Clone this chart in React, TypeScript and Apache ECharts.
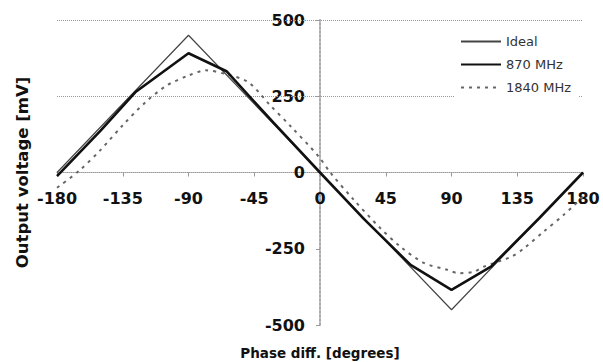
import React, { useEffect, useRef } from "react";
import * as echarts from "echarts";

const xTicks = [-180, -135, -90, -45, 0, 45, 90, 135, 180];
const yTicks = [-500, -250, 0, 250, 500];

const idealX = [-180, -90, 90, 180];
const idealY = [0, 450, -450, 0];

const mhz870X = [-180, -150, -126, -90, -64, -32, 0, 30, 62, 90, 117, 150, 180];
const mhz870Y = [-12, 138, 265, 391, 332, 164, 0, -152, -303, -385, -309, -150, 0];

const mhz1840X = [-180, -165, -150, -135, -120, -105, -90, -78, -64, -49, -35, -20, -1, 7, 23, 41, 55, 71, 87, 95, 105, 112, 131, 140, 153, 167, 180];
const mhz1840Y = [-50, 5, 75, 155, 228, 285, 318, 335, 322, 296, 225, 151, 53, 0, -89, -181, -243, -296, -319, -330, -326, -309, -276, -247, -194, -138, -80];

const zip = (xs: number[], ys: number[]) => xs.map((x, i) => [x, ys[i]]);

const W = 603;
const H = 362;
const GRID = { left: 57, right: 20, top: 20, bottom: 37 };

export default function App() {
  const ref = useRef<HTMLDivElement>(null);
  useEffect(() => {
    if (!ref.current) return;
    const chart = echarts.init(ref.current, null, { renderer: "svg" });
    const plotW = W - GRID.left - GRID.right;
    const plotH = H - GRID.top - GRID.bottom;
    const yOffset = -plotW / 2;
    const xOffset = -plotH / 2;
    const tickFont = { fontFamily: "DejaVu Sans", fontWeight: "bold" as const, fontSize: 16, color: "#111" };
    chart.setOption({
      animation: false,
      backgroundColor: "#fff",
      grid: { ...GRID, containLabel: false, outerBoundsMode: "none" },
      legend: {
        orient: "vertical",
        left: 455,
        top: 30,
        padding: [5, 8, 5, 5],
        backgroundColor: "#fff",
        itemWidth: 40,
        itemHeight: 14,
        itemGap: 10,
        itemStyle: { opacity: 0 },
        textStyle: { fontFamily: "DejaVu Sans", fontSize: 13, color: "#333" },
        data: ["Ideal", "870 MHz", "1840 MHz"],
      },
      xAxis: {
        type: "value",
        position: "bottom",
        offset: xOffset,
        min: -180,
        max: 180,
        interval: 45,
        name: "Phase diff. [degrees]",
        nameLocation: "middle",
        nameGap: 173,
        nameTextStyle: { fontFamily: "DejaVu Sans", fontWeight: "bold", fontSize: 13.5, color: "#111" },
        axisLine: { onZero: false, lineStyle: { color: "#999", type: "dotted", width: 1 } },
        axisTick: { show: true, length: 4, lineStyle: { color: "#999" } },
        axisLabel: { ...tickFont, margin: 18, hideOverlap: false, formatter: (v: number) => (xTicks.includes(v) ? String(v) : "") },
        splitLine: { show: false },
      },
      yAxis: {
        type: "value",
        position: "left",
        offset: yOffset,
        min: -500,
        max: 500,
        interval: 250,
        name: "Output voltage [mV]",
        nameLocation: "middle",
        nameRotate: 90,
        nameGap: 289,
        nameTextStyle: { fontFamily: "DejaVu Sans", fontWeight: "bold", fontSize: 16.5, color: "#111" },
        axisLine: { onZero: false, lineStyle: { color: "#aaa", type: "dotted", width: 2 } },
        axisTick: { show: true, length: 4, lineStyle: { color: "#999" } },
        axisLabel: { ...tickFont, margin: 15, formatter: (v: number) => (yTicks.includes(v) ? String(v) : "") },
        splitLine: { show: false },
      },
      series: [
        {
          name: "Ideal",
          type: "line",
          data: zip(idealX, idealY),
          symbol: "none",
          itemStyle: { color: "#444" },
          lineStyle: { color: "#444", width: 1.2 },
          z: 3,
          markLine: {
            silent: true,
            symbol: "none",
            label: { show: false },
            lineStyle: { color: "#999", type: "dotted", width: 1 },
            data: [{ yAxis: 250 }, { yAxis: 500 }],
            z: 1,
          },
        },
        {
          name: "870 MHz",
          type: "line",
          data: zip(mhz870X, mhz870Y),
          symbol: "none",
          itemStyle: { color: "#111" },
          lineStyle: { color: "#111", width: 2.6 },
          z: 4,
        },
        {
          name: "1840 MHz",
          type: "line",
          data: zip(mhz1840X, mhz1840Y),
          symbol: "none",
          smooth: 0.3,
          itemStyle: { color: "#666" },
          lineStyle: { color: "#666", width: 2, type: [3, 5] },
          z: 2,
        },
      ],
    });
    return () => chart.dispose();
  }, []);
  return <div ref={ref} style={{ position: "fixed", left: 0, top: 0, width: W, height: H }} />;
}
